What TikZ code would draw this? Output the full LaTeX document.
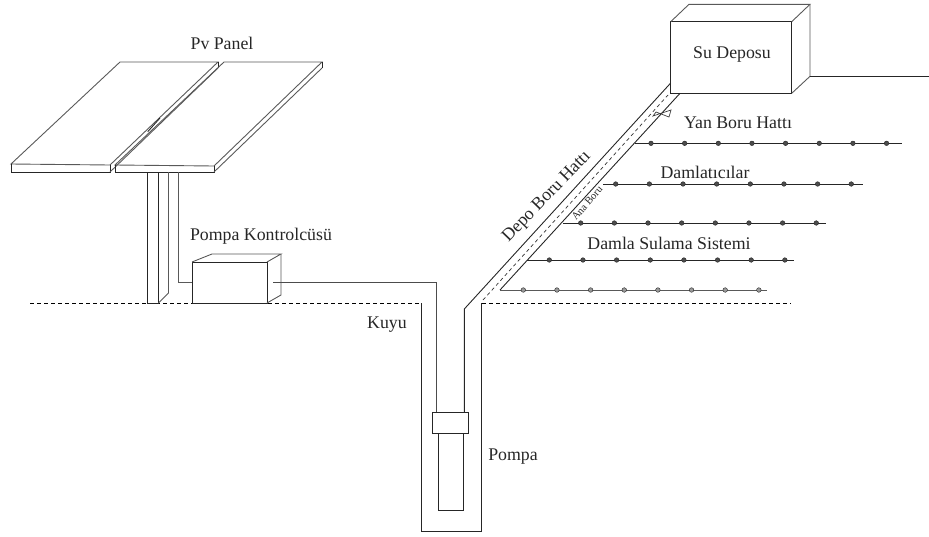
\documentclass[tikz,border=0pt]{standalone}
\usepackage{fontspec}
\setmainfont{Liberation Serif}
\tikzset{
  line/.style={black!85, line width=0.9pt},
  lightline/.style={black!65, line width=0.9pt},
  ground/.style={black, dashed, dash pattern=on 4pt off 3pt, line width=0.7pt},
  dripper/.style={circle, fill=black!70, draw=black!85, inner sep=0pt, minimum size=4.6pt},
  label/.style={font=\fontsize{17.8}{20}\selectfont, black!85, inner sep=0pt},
}
\begin{document}
\begin{tikzpicture}[x=1pt, y=-1pt]
  \useasboundingbox (0,0) rectangle (929,536);
  % Ground line
  \draw[ground] (30,303) -- (421,303);
  \draw[ground] (482,303) -- (791,303);
  % Left panel
  \draw[lightline] (11,164) -- (120,62) -- (218,62) -- (110,165) -- cycle;
  \draw[line] (11,164) -- (11,172) -- (110,172) -- (110,165);
  \draw[lightline] (110,172) -- (218,68);
  \draw[line] (218,62) -- (218,68);
  \draw[line] (147.7,131.7) -- (160,118);
  % Right panel
  \draw[lightline] (115,165) -- (224,62) -- (322,62) -- (214,166) -- cycle;
  \draw[line] (115,165) -- (115,172) -- (214,172) -- (214,166);
  \draw[lightline] (214,172) -- (322,68);
  \draw[line] (322,62) -- (322,68);
  % Panel post
  \draw[line] (147.5,172) -- (147.5,303) -- (158.5,303) -- (158.5,172);
  \draw[lightline] (168.5,172) -- (168.5,293) -- (158.5,303);
  % Panel cable
  \draw[lightline] (178.5,172) -- (178.5,282) -- (192,282);
  % Controller
  \draw[line] (192,262) rectangle (267,303);
  \draw[lightline] (192,262) -- (212,254) -- (281,254) -- (267,262);
  \draw[lightline] (281,254) -- (281,295) -- (267,303);
  % Pump cable
  \draw[black!70, line width=0.7pt] (273,282) -- (436,282) -- (436,412);
  % Well
  \draw[line] (421,303) -- (421,531) -- (481.7,531) -- (481.7,303);
  % Pump
  \draw[line] (432.7,412.3) rectangle (468,433.7);
  \draw[line] (438.7,433.7) rectangle (463.3,510.7);
  % Tank pipe
  \draw[line] (464.3,412.3) -- (464.3,309) -- (670.7,83);
  \draw[line] (500,290) -- (680,93.3);
  \draw[black!80, dashed, dash pattern=on 3.5pt off 3pt, line width=0.7pt] (483,300) -- (668,95);
  % Valve
  \draw[black!75, line width=0.7pt] (653,116) -- (671,110) -- (669,117) -- (656,112) -- cycle;
  % Tank
  \draw[line] (670.7,21.7) rectangle (791.7,93.3);
  \draw[lightline] (670.7,21.7) -- (689,4.3) -- (810,4.3) -- (791.7,21.7);
  \draw[lightline] (810,4.3) -- (810,76.3) -- (791.7,93.3);
  \draw[line] (810,76.3) -- (929,76.3);
  % Drip lines
  \draw[line] (635,143.3) -- (901.7,143.3);
  \foreach \dx in {0,...,7}
    \node[dripper] (a\dx) at ({651+33.65*\dx},143.3) {};
  \draw[line] (603,184) -- (863,184);
  \foreach \dx in {0,...,7}
    \node[dripper] (b\dx) at ({615.7+33.65*\dx},184) {};
  \draw[line] (563,223) -- (826,223);
  \foreach \dx in {0,...,7}
    \node[dripper] (c\dx) at ({580.7+33.65*\dx},223) {};
  \draw[line] (527,260) -- (794,260);
  \foreach \dx in {0,...,7}
    \node[dripper] (d\dx) at ({549.3+33.65*\dx},260) {};
  \draw[lightline] (500,290) -- (766.7,290);
  \foreach \dx in {0,...,7}
    \node[dripper, fill=black!40] (e\dx) at ({523.3+33.65*\dx},290) {};
  % Labels
  \node[label] (panel) at (222,43) {Pv Panel};
  \node[label] (depo) at (732,54) {Su Deposu};
  \node[label] (kontrol) at (261,236) {Pompa Kontrolcüsü};
  \node[label] (kuyu) at (387,325) {Kuyu};
  \node[label] (pompa) at (513,457) {Pompa};
  \node[label] (yan) at (738,123) {Yan Boru Hattı};
  \node[label] (damla) at (705,172) {Damlatıcılar};
  \node[label] (sulama) at (669,243) {Damla Sulama Sistemi};
  \node[label, rotate=46] (hat) at (547,197) {Depo Boru Hattı};
  \node[label, rotate=49, font=\fontsize{10.5}{12}\selectfont] (ana) at (587,203) {Ana Boru};
\end{tikzpicture}
\end{document}
